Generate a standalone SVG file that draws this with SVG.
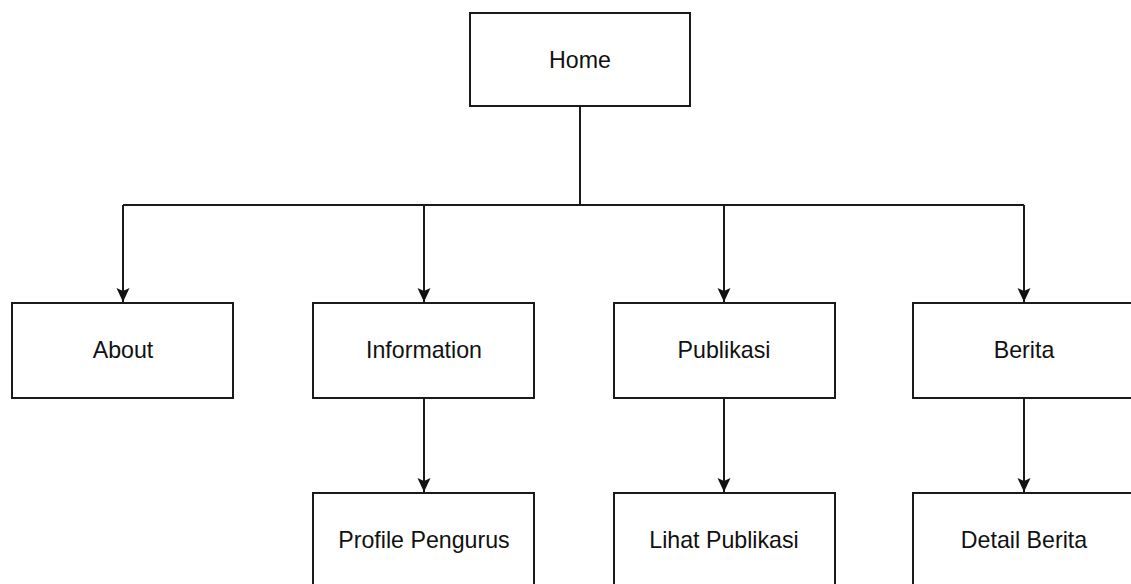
<svg xmlns="http://www.w3.org/2000/svg" width="1131" height="584" viewBox="0 0 1131 584">
<defs>
<style>
.box{fill:#fff;stroke:#1a1a1a;stroke-width:2}
.lbl{font-family:"Liberation Sans",Arial,sans-serif;font-size:23.2px;fill:#111;text-anchor:middle}
.edge{fill:none;stroke:#1a1a1a;stroke-width:2}
</style>
<marker id="arr" markerUnits="userSpaceOnUse" markerWidth="16" markerHeight="16" viewBox="0 0 16 16" refX="14" refY="8" orient="auto">
<path d="M0,1.5 L14,8 L0,14.5 L3,8 Z" fill="#111"/>
</marker>
</defs>
<rect width="1131" height="584" fill="#fff"/>
<g id="connectors">
<path class="edge" d="M580,106 V205"/>
<path class="edge" d="M123,205 H1024"/>
<path class="edge" d="M123,205 V302" marker-end="url(#arr)"/>
<path class="edge" d="M424,205 V302" marker-end="url(#arr)"/>
<path class="edge" d="M724,205 V302" marker-end="url(#arr)"/>
<path class="edge" d="M1024,205 V302" marker-end="url(#arr)"/>
<path class="edge" d="M424,398 V492" marker-end="url(#arr)"/>
<path class="edge" d="M724,398 V492" marker-end="url(#arr)"/>
<path class="edge" d="M1024,398 V492" marker-end="url(#arr)"/>
</g>
<g id="home"><rect class="box" x="470" y="13" width="220" height="93"/><text class="lbl" x="580" y="68">Home</text></g>
<g id="about"><rect class="box" x="12" y="303" width="221" height="95"/><text class="lbl" x="123" y="358">About</text></g>
<g id="information"><rect class="box" x="313" y="303" width="221" height="95"/><text class="lbl" x="424" y="358">Information</text></g>
<g id="publikasi"><rect class="box" x="614" y="303" width="221" height="95"/><text class="lbl" x="724" y="358">Publikasi</text></g>
<g id="berita"><rect class="box" x="913" y="303" width="221" height="95"/><text class="lbl" x="1024" y="358">Berita</text></g>
<g id="profile-pengurus"><rect class="box" x="313" y="493" width="221" height="95"/><text class="lbl" x="424" y="548">Profile Pengurus</text></g>
<g id="lihat-publikasi"><rect class="box" x="614" y="493" width="221" height="95"/><text class="lbl" x="724" y="548">Lihat Publikasi</text></g>
<g id="detail-berita"><rect class="box" x="913" y="493" width="221" height="95"/><text class="lbl" x="1024" y="548">Detail Berita</text></g>
</svg>
